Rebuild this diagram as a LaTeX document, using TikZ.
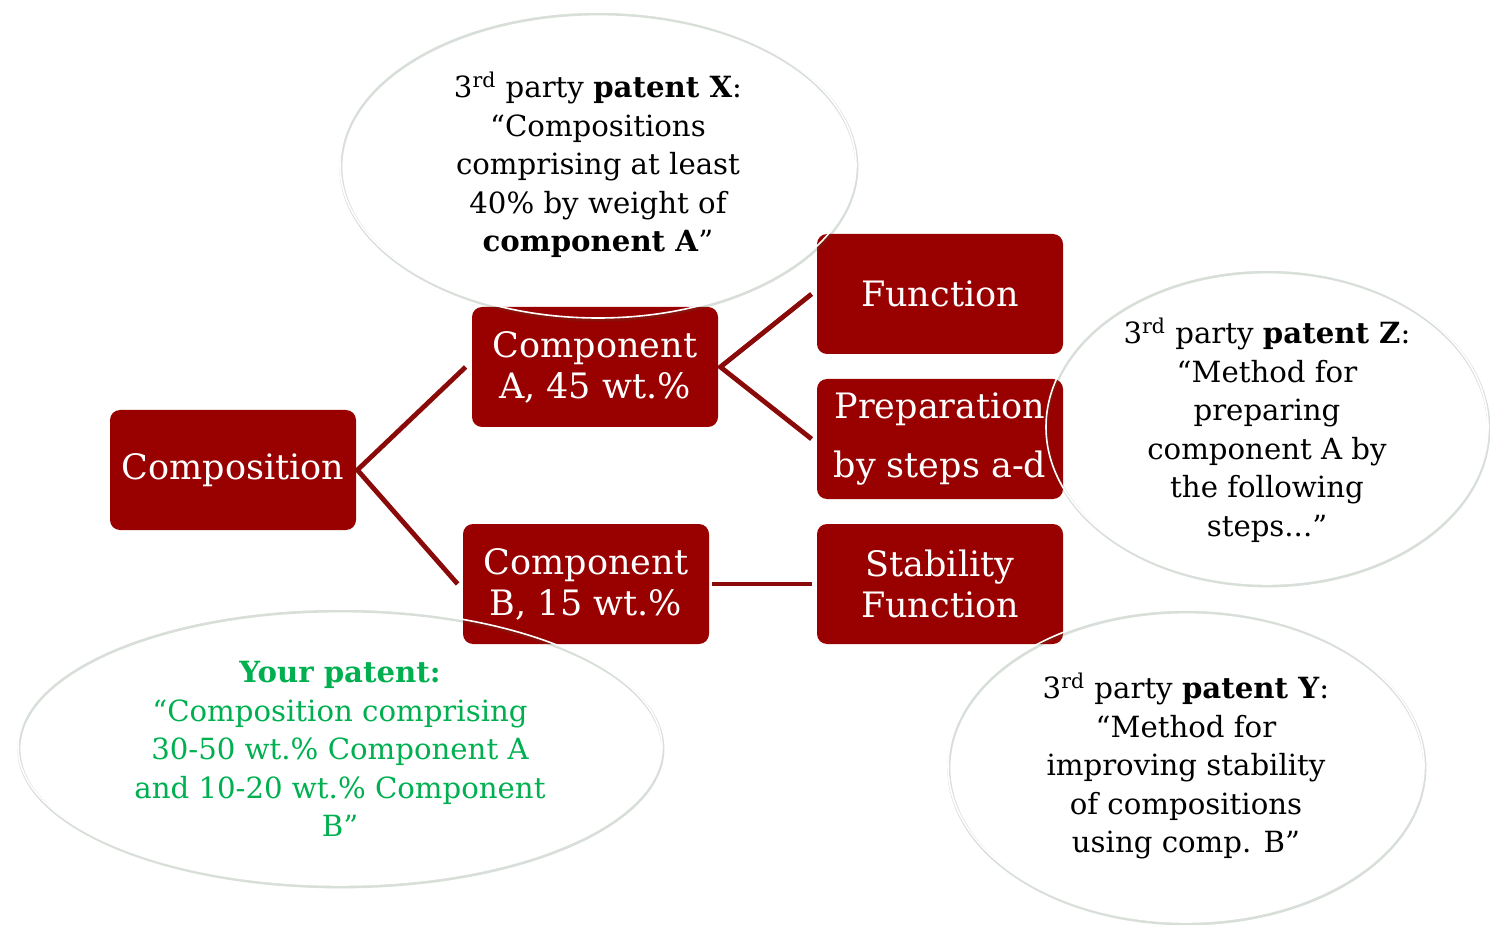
\documentclass[tikz,border=0pt]{standalone}
\usepackage{fontspec}
\setmainfont{DejaVu Serif}
\usetikzlibrary{shapes.geometric}
\definecolor{boxred}{HTML}{990000}
\definecolor{linered}{HTML}{8A0A0A}
\definecolor{patgreen}{HTML}{00B050}
\definecolor{shadowgreen}{HTML}{3A5A3A}
\begin{document}
\begin{tikzpicture}[x=0.5pt,y=-0.5pt,
  stepbox/.style={rectangle, rounded corners=5pt, fill=boxred, text=white,
    minimum width=123pt, minimum height=60pt, inner sep=0pt, align=center,
    font=\fontsize{17.5}{20.5}\selectfont},
  conn/.style={draw=linered, line width=2.4pt, line join=miter},
  ellbox/.style={ellipse, draw=white, line width=0.8pt, inner sep=0pt,
    preaction={draw=shadowgreen, draw opacity=0.2, line width=1.6pt,
      transform canvas={xshift=0.4pt, yshift=-0.9pt}}},
  etext/.style={align=center, font=\fontsize{14.6}{19.25}\selectfont, inner sep=0pt}]
\useasboundingbox (0,0) rectangle (1490,925);

% boxes
\node[stepbox] (comp) at (233,470) {Composition};
\node[stepbox] (compA) at (595,367) {Component\\A, 45 wt.\%};
\node[stepbox] (compB) at (586,584) {Component\\B, 15 wt.\%};
\node[stepbox] (func) at (940,294) {Function};
\node[stepbox, font=\fontsize{17.5}{29.5}\selectfont] (prep) at (940,439) {Preparation\\by steps a-d};
\node[stepbox] (stab) at (940,584) {Stability\\Function};

% connectors
\coordinate (tipC) at ([xshift=0.5pt]comp.east);
\draw[conn] ([xshift=-3pt]compA.west) -- (tipC) -- ([xshift=-2.5pt]compB.west);
\coordinate (tipA) at ([xshift=1pt]compA.east);
\draw[conn] ([xshift=-2.5pt]func.west) -- (tipA) -- ([xshift=-2.5pt]prep.west);
\draw[conn] ([xshift=1.5pt]compB.east) -- ([xshift=-2.5pt]stab.west);

% ellipses
\node[ellbox, minimum width=258pt, minimum height=153pt] (ellX) at (598,165) {};
\node[ellbox, minimum width=221pt, minimum height=157pt] (ellZ) at (1267,427) {};
\node[ellbox, minimum width=322pt, minimum height=138pt] (ellO) at (340,747) {};
\node[ellbox, minimum width=238pt, minimum height=156pt] (ellY) at (1186,766) {};

\node[etext] (txtX) at (ellX.center) {3\textsuperscript{rd} party \textbf{patent X}:\\“Compositions\\comprising at least\\40\% by weight of\\\textbf{component A}”};
\node[etext] (txtZ) at ([yshift=-1.5pt]ellZ.center) {3\textsuperscript{rd} party \textbf{patent Z}:\\“Method for\\preparing\\component A by\\the following\\steps...”};
\node[etext, text=patgreen] (txtO) at ([yshift=-1pt]ellO.center) {\textbf{Your patent:}\\“Composition comprising\\30-50 wt.\% Component A\\and 10-20 wt.\% Component\\B”};
\node[etext] (txtY) at (ellY.center) {3\textsuperscript{rd} party \textbf{patent Y}:\\“Method for\\improving stability\\of compositions\\using comp. B”};
\end{tikzpicture}
\end{document}
